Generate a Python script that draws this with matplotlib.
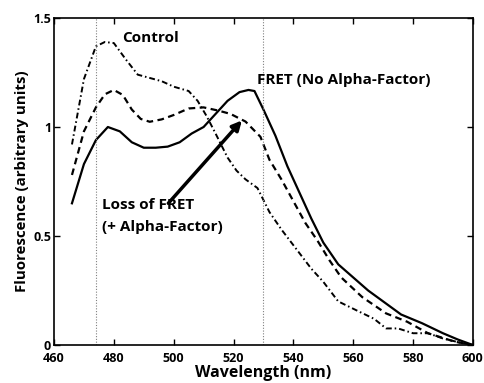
import numpy as np
import matplotlib
matplotlib.use('Agg')
import matplotlib.pyplot as plt

plt.rcParams['font.family'] = ['Open Sans', 'DejaVu Sans']
plt.rcParams['font.weight'] = 'bold'

# FRET (no alpha-factor), solid
wl_fret = [466, 470, 474, 478, 482, 486, 490, 494, 498, 502, 506, 510, 514, 518,
           522, 525, 527, 530, 534, 538, 542, 546, 550, 555, 560, 565, 570, 576,
           583, 590, 595, 600]
fret = [0.65, 0.83, 0.94, 1.0, 0.98, 0.93, 0.905, 0.905, 0.91, 0.93, 0.97, 1.0,
        1.06, 1.12, 1.16, 1.17, 1.165, 1.08, 0.96, 0.82, 0.70, 0.58, 0.47, 0.37,
        0.31, 0.25, 0.20, 0.14, 0.10, 0.054, 0.025, 0.0]

# Loss of FRET (+ alpha-factor), dashed
wl_loss = [466, 470, 474, 477, 480, 483, 486, 489, 492, 496, 500, 505, 510, 515,
           519, 524, 529, 532, 536, 540, 544, 548, 552, 556, 563, 571, 578, 585,
           594, 600]
loss = [0.78, 0.98, 1.09, 1.15, 1.17, 1.147, 1.08, 1.037, 1.024, 1.035, 1.055,
        1.085, 1.09, 1.075, 1.06, 1.025, 0.955, 0.85, 0.76, 0.66, 0.56, 0.48,
        0.39, 0.31, 0.22, 0.145, 0.107, 0.054, 0.015, 0.0]

# Control, dash-dot
wl_ctrl = [466, 470, 474, 477, 480, 484, 488, 492, 496, 500, 505, 508, 511, 514,
           518, 521, 524, 528, 532, 536, 541, 546, 550, 555, 562, 567, 571, 575,
           580, 585, 590, 596, 600]
ctrl = [0.92, 1.22, 1.37, 1.39, 1.385, 1.31, 1.24, 1.225, 1.21, 1.185, 1.165,
        1.12, 1.05, 0.97, 0.86, 0.80, 0.76, 0.72, 0.61, 0.53, 0.44, 0.35, 0.29,
        0.20, 0.153, 0.12, 0.076, 0.076, 0.054, 0.054, 0.03, 0.01, 0.0]

fig = plt.figure(figsize=(4.84, 3.83), dpi=100)
ax = fig.add_axes([0.1116, 0.0992, 0.8654, 0.8538])

ax.plot(wl_fret, fret, color='black', lw=1.6)
ax.plot(wl_loss, loss, color='black', lw=1.6, linestyle=(0, (3, 2)))
ax.plot(wl_ctrl, ctrl, color='black', lw=1.4, linestyle=(0, (3, 1.5, 0.8, 1.5)))

for x in (474, 530):
    ax.axvline(x, color='gray', lw=0.8, linestyle=(0, (1, 1.5)))

ax.text(482.7, 1.41, 'Control', fontsize=11, fontweight='bold', va='center')
ax.text(528, 1.216, 'FRET (No Alpha-Factor)', fontsize=11, fontweight='bold', va='center')
ax.text(476, 0.64, 'Loss of FRET', fontsize=11, fontweight='bold', va='center')
ax.text(476, 0.54, '(+ Alpha-Factor)', fontsize=11, fontweight='bold', va='center')
ax.annotate('', xy=(522.8, 1.03), xytext=(498.2, 0.65),
            arrowprops=dict(arrowstyle='-|>', color='black', lw=2.5,
                            mutation_scale=14, shrinkA=0, shrinkB=0))

ax.set_xlim(460, 600)
ax.set_ylim(0, 1.5)
ax.set_xticks(np.arange(460, 601, 20))
ax.set_yticks([0, 0.5, 1, 1.5])
ax.set_yticklabels(['0', '0.5', '1', '1.5'])
ax.tick_params(direction='in', top=True, right=True, labelsize=9, length=4,
               width=1, pad=2)
ax.tick_params(axis='x', pad=5)
for s in ax.spines.values():
    s.set_linewidth(1.2)
ax.set_xlabel('Wavelength (nm)', fontsize=11.5, fontweight='bold', labelpad=0)
ax.set_ylabel('Fluorescence (arbitrary units)', fontsize=10.8, fontweight='bold', labelpad=3)

fig.savefig('out.png', dpi=100)
